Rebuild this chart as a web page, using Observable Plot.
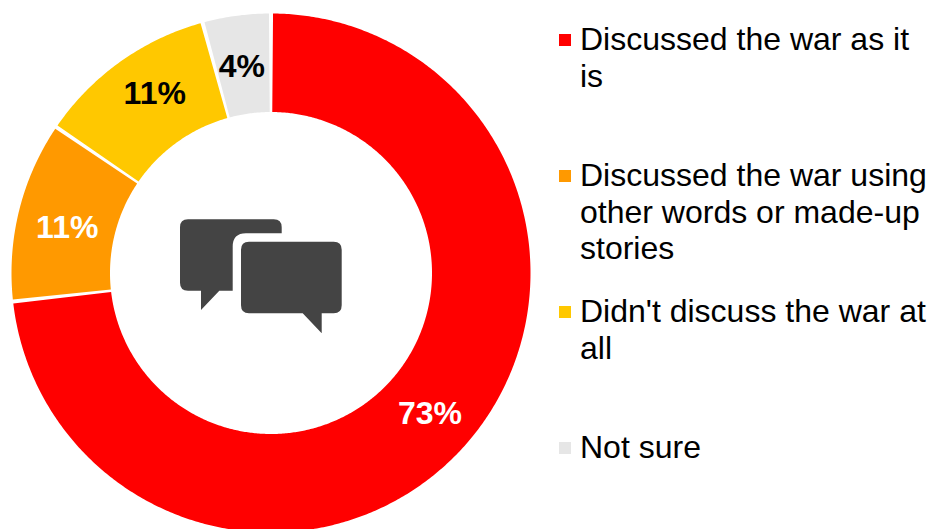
<!DOCTYPE html>
<html>
<head>
<meta charset="utf-8">
<script src="https://cdn.jsdelivr.net/npm/d3@7"></script>
<script src="https://cdn.jsdelivr.net/npm/@observablehq/plot@0.6"></script>
<style>
  html, body { margin: 0; padding: 0; background: #fff; }
  #page { position: relative; width: 933px; height: 529px; overflow: hidden; font-family: "Liberation Sans", Arial, sans-serif; }
  #chart { position: absolute; left: 0; top: 0; }
  #legend { position: absolute; left: 559px; top: 21px; width: 374px; color: #000; font-size: 32px; line-height: 36.5px; }
  .item { position: relative; height: 136px; padding-left: 21px; }
  .swatch { position: absolute; left: 0; top: 13px; width: 12px; height: 12px; }
</style>
</head>
<body>
<div id="page">
  <div id="chart"></div>
  <div id="legend"></div>
</div>
<script>
// Survey answers, in clockwise order from twelve o'clock.
const categories = [
  "Discussed the war as it is",
  "Discussed the war using other words or made-up stories",
  "Didn't discuss the war at all",
  "Not sure"
];
const shares = [73, 11, 11, 4];
const colors = ["#ff0000", "#ff9900", "#ffc800", "#e6e6e6"];
const labelColors = ["#ffffff", "#ffffff", "#000000", "#000000"];
// Small hand adjustments to the label placement, in pixels (right, down).
const labelNudges = [[1, -1], [2, 6], [7, -7], [-1, 4]];

// Ring geometry: the x and y scales are in units of the outer radius.
const W = 540, H = 529, cx = 270.5, cy = 272.5, R = 259.5;
const inner = 161 / R, labelRadius = 212 / R;

// Every slice spans its own percentage of the full turn. The point lost to
// rounding is shared out as the white gaps that separate the slices.
const pad = (100 - d3.sum(shares)) / shares.length / 100;
const spans = shares.map((share, i) => {
  const t0 = d3.sum(shares.slice(0, i)) / 100 + pad * (i + 0.5);
  return [t0, t0 + share / 100];
});
const toXY = (turn, r) => [r * Math.sin(turn * 2 * Math.PI), r * Math.cos(turn * 2 * Math.PI)];

// Each slice is a closed outline: along the outer edge, then back along the inner edge.
const outline = categories.flatMap((category, i) => {
  const [t0, t1] = spans[i];
  const n = Math.ceil((t1 - t0) * 720);
  const steps = d3.range(n + 1).map((k) => t0 + (t1 - t0) * k / n);
  const ring = [...steps.map((t) => toXY(t, 1)), ...steps.slice().reverse().map((t) => toXY(t, inner))];
  ring.push(ring[0]);
  return ring.map(([x, y]) => ({category, x, y}));
});

const labels = categories.map((category, i) => {
  const [x, y] = toXY((spans[i][0] + spans[i][1]) / 2, labelRadius);
  const [dx, dy] = labelNudges[i];
  return {category, x: x + dx / R, y: y - dy / R, text: `${shares[i]}%`, color: labelColors[i]};
});

// Overlapping speech bubbles in the hole of the ring.
const bubbles = "M188 219.3H273.7Q281.7 219.3 281.7 227.3V233.3H246Q232.7 233.3 232.7 246.7V290.7H219.3L201 310V290.7H188Q180 290.7 180 282.7V227.3Q180 219.3 188 219.3Z" +
  "M249 241.7H333.7Q341.7 241.7 341.7 249.7V305.3Q341.7 313.3 333.7 313.3H321.7V333.3L302.7 313.3H249Q241 313.3 241 305.3V249.7Q241 241.7 249 241.7Z";

const chart = Plot.plot({
  width: W,
  height: H,
  margin: 0,
  style: {background: "transparent", fontFamily: '"Liberation Sans", Arial, sans-serif'},
  x: {domain: [-cx / R, (W - cx) / R], range: [0, W], axis: null},
  y: {domain: [(cy - H) / R, cy / R], range: [H, 0], axis: null},
  color: {domain: categories, range: colors},
  marks: [
    Plot.line(outline, {x: "x", y: "y", z: "category", fill: "category", stroke: "none", curve: "linear"}),
    Plot.text(labels, {x: "x", y: "y", text: "text", fill: "color", fontSize: 32, fontWeight: "bold"}),
    () => {
      const path = document.createElementNS("http://www.w3.org/2000/svg", "path");
      path.setAttribute("d", bubbles);
      path.setAttribute("fill", "#444444");
      return path;
    }
  ]
});
document.getElementById("chart").append(chart);

// Legend to the right of the ring, coloured from the chart's own scale.
const color = chart.scale("color");
const legend = d3.select("#legend");
categories.forEach((category) => {
  const item = legend.append("div").attr("class", "item");
  item.append("span").attr("class", "swatch").style("background", color.apply(category));
  item.append("span").text(category);
});
</script>
</body>
</html>
